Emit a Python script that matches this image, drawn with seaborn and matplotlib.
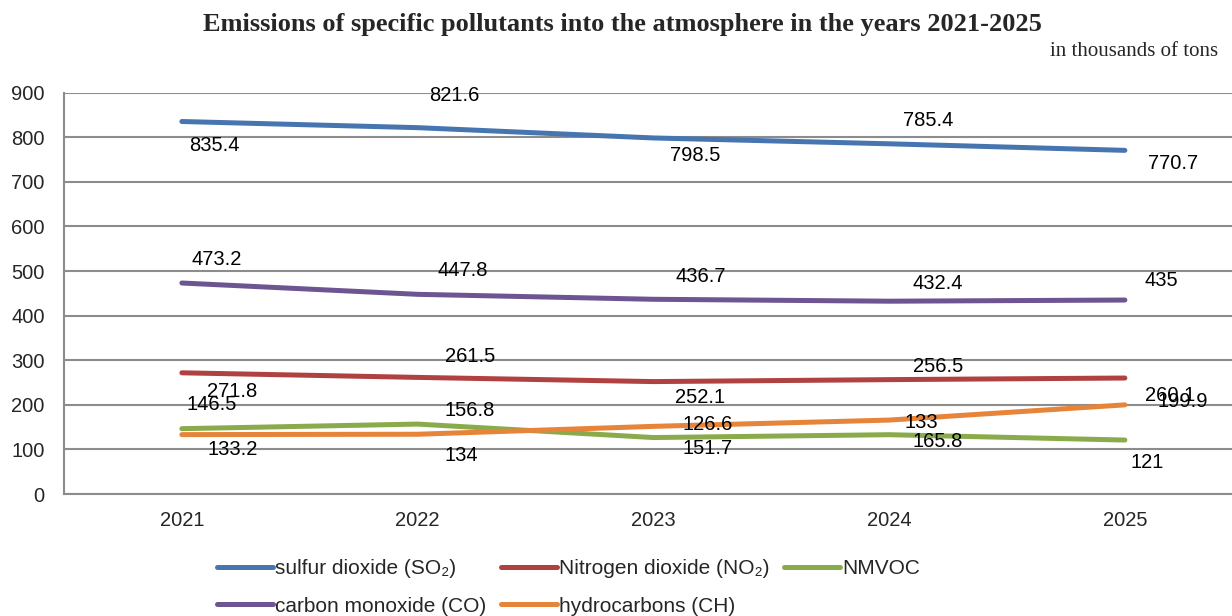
import numpy as np
import pandas as pd
import matplotlib as mpl
mpl.use("Agg")
import matplotlib.pyplot as plt
from matplotlib.lines import Line2D
import seaborn as sns

# data
years = [2021, 2022, 2023, 2024, 2025]
so2 = [835.4, 821.6, 798.5, 785.4, 770.7]
no2 = [271.8, 261.5, 252.1, 256.5, 260.1]
nmvoc = [146.5, 156.8, 126.6, 133, 121]
co = [473.2, 447.8, 436.7, 432.4, 435]
ch = [133.2, 134, 151.7, 165.8, 199.9]
series_names = [
    "sulfur dioxide (SO₂)",
    "Nitrogen dioxide (NO₂)",
    "NMVOC",
    "carbon monoxide (CO)",
    "hydrocarbons (CH)",
]
series_values = [so2, no2, nmvoc, co, ch]
y_ticks = [0, 100, 200, 300, 400, 500, 600, 700, 800, 900]

colors = ["#4675B0", "#AF4240", "#8AAB4C", "#6D5591", "#E6843A"]

# label offsets (pixels) copied from the reference placement
label_offsets = [
    [(33, -24), (37, 32), (42, -18), (39, 23), (48, -13)],
    [(50, -19), (52, 21), (47, -16), (49, 13), (45, -17)],
    [(30, 24), (52, 14), (54, 13), (32, 12), (22, -22)],
    [(35, 24), (45, 24), (47, 23), (49, 18), (36, 20)],
    [(51, -15), (44, -21), (54, -22), (49, -21), (58, 3)],
]

rows = []
for name, vals in zip(series_names, series_values):
    for yr, v in zip(years, vals):
        rows.append({"Year": yr, "Value": v, "Pollutant": name})
df = pd.DataFrame(rows)

sns.set_style("white")
plt.rcParams["font.family"] = ["Liberation Sans", "DejaVu Sans"]

fig = plt.figure(figsize=(12.32, 6.16), dpi=100)
ax = fig.add_axes([64 / 1232, 1 - 494 / 616, 1178.75 / 1232, (494 - 92.7) / 616])

sns.lineplot(
    data=df,
    x="Year",
    y="Value",
    hue="Pollutant",
    hue_order=series_names,
    palette=colors,
    linewidth=3.6,
    legend=False,
    ax=ax,
)
for line in ax.get_lines():
    line.set_solid_capstyle("round")

# data labels
for vals, offs in zip(series_values, label_offsets):
    for yr, v, (dx, dy) in zip(years, vals, offs):
        ax.annotate(
            f"{v:g}",
            xy=(yr, v),
            xytext=(dx * 0.72, dy * 0.72),
            textcoords="offset points",
            ha="center",
            va="center",
            fontsize=14.5,
            color="black",
        )

ax.set_xlim(2020.5, 2025.5)
ax.set_ylim(0, 900)
ax.set_yticks(y_ticks)
ax.set_xticks(years)
ax.set_xticks([2020.5, 2021.5, 2022.5, 2023.5, 2024.5], minor=True)
ax.tick_params(axis="x", which="major", length=0, labelsize=14.5, pad=12)
ax.tick_params(axis="x", which="minor", length=6, width=1.3, color="#888888", direction="out")
ax.tick_params(axis="y", length=6, width=1.3, color="#888888", labelsize=14.5, pad=8)
ax.yaxis.grid(True, color="#8c8c8c", linewidth=1.5)
ax.set_axisbelow(True)
ax.set_xlabel("")
ax.set_ylabel("")
for s in ["top", "right"]:
    ax.spines[s].set_visible(False)
for s in ["left", "bottom"]:
    ax.spines[s].set_color("#8c8c8c")
    ax.spines[s].set_linewidth(1.5)

fig.text(
    622 / 1232, 1 - 24 / 616,
    "Emissions of specific pollutants into the atmosphere in the years 2021-2025",
    ha="center", va="center", fontsize=19, fontweight="bold", family="Liberation Serif",
)
fig.text(
    1218 / 1232, 1 - 52 / 616, "in thousands of tons",
    ha="right", va="center", fontsize=15, family="Liberation Serif",
)

handles = [Line2D([0], [0], color=c, linewidth=3.6, solid_capstyle="round") for c in colors]
order = [0, 3, 1, 4, 2]
fig.legend(
    [handles[i] for i in order],
    [series_names[i] for i in order],
    loc="upper left",
    bbox_to_anchor=(217 / 1232, 1 - 559 / 616),
    ncol=3,
    frameon=False,
    fontsize=15,
    handlelength=2.7,
    handletextpad=0.1,
    columnspacing=0.68,
    labelspacing=0.9,
    borderpad=0,
    borderaxespad=0,
)

fig.savefig("out.png", dpi=100)
